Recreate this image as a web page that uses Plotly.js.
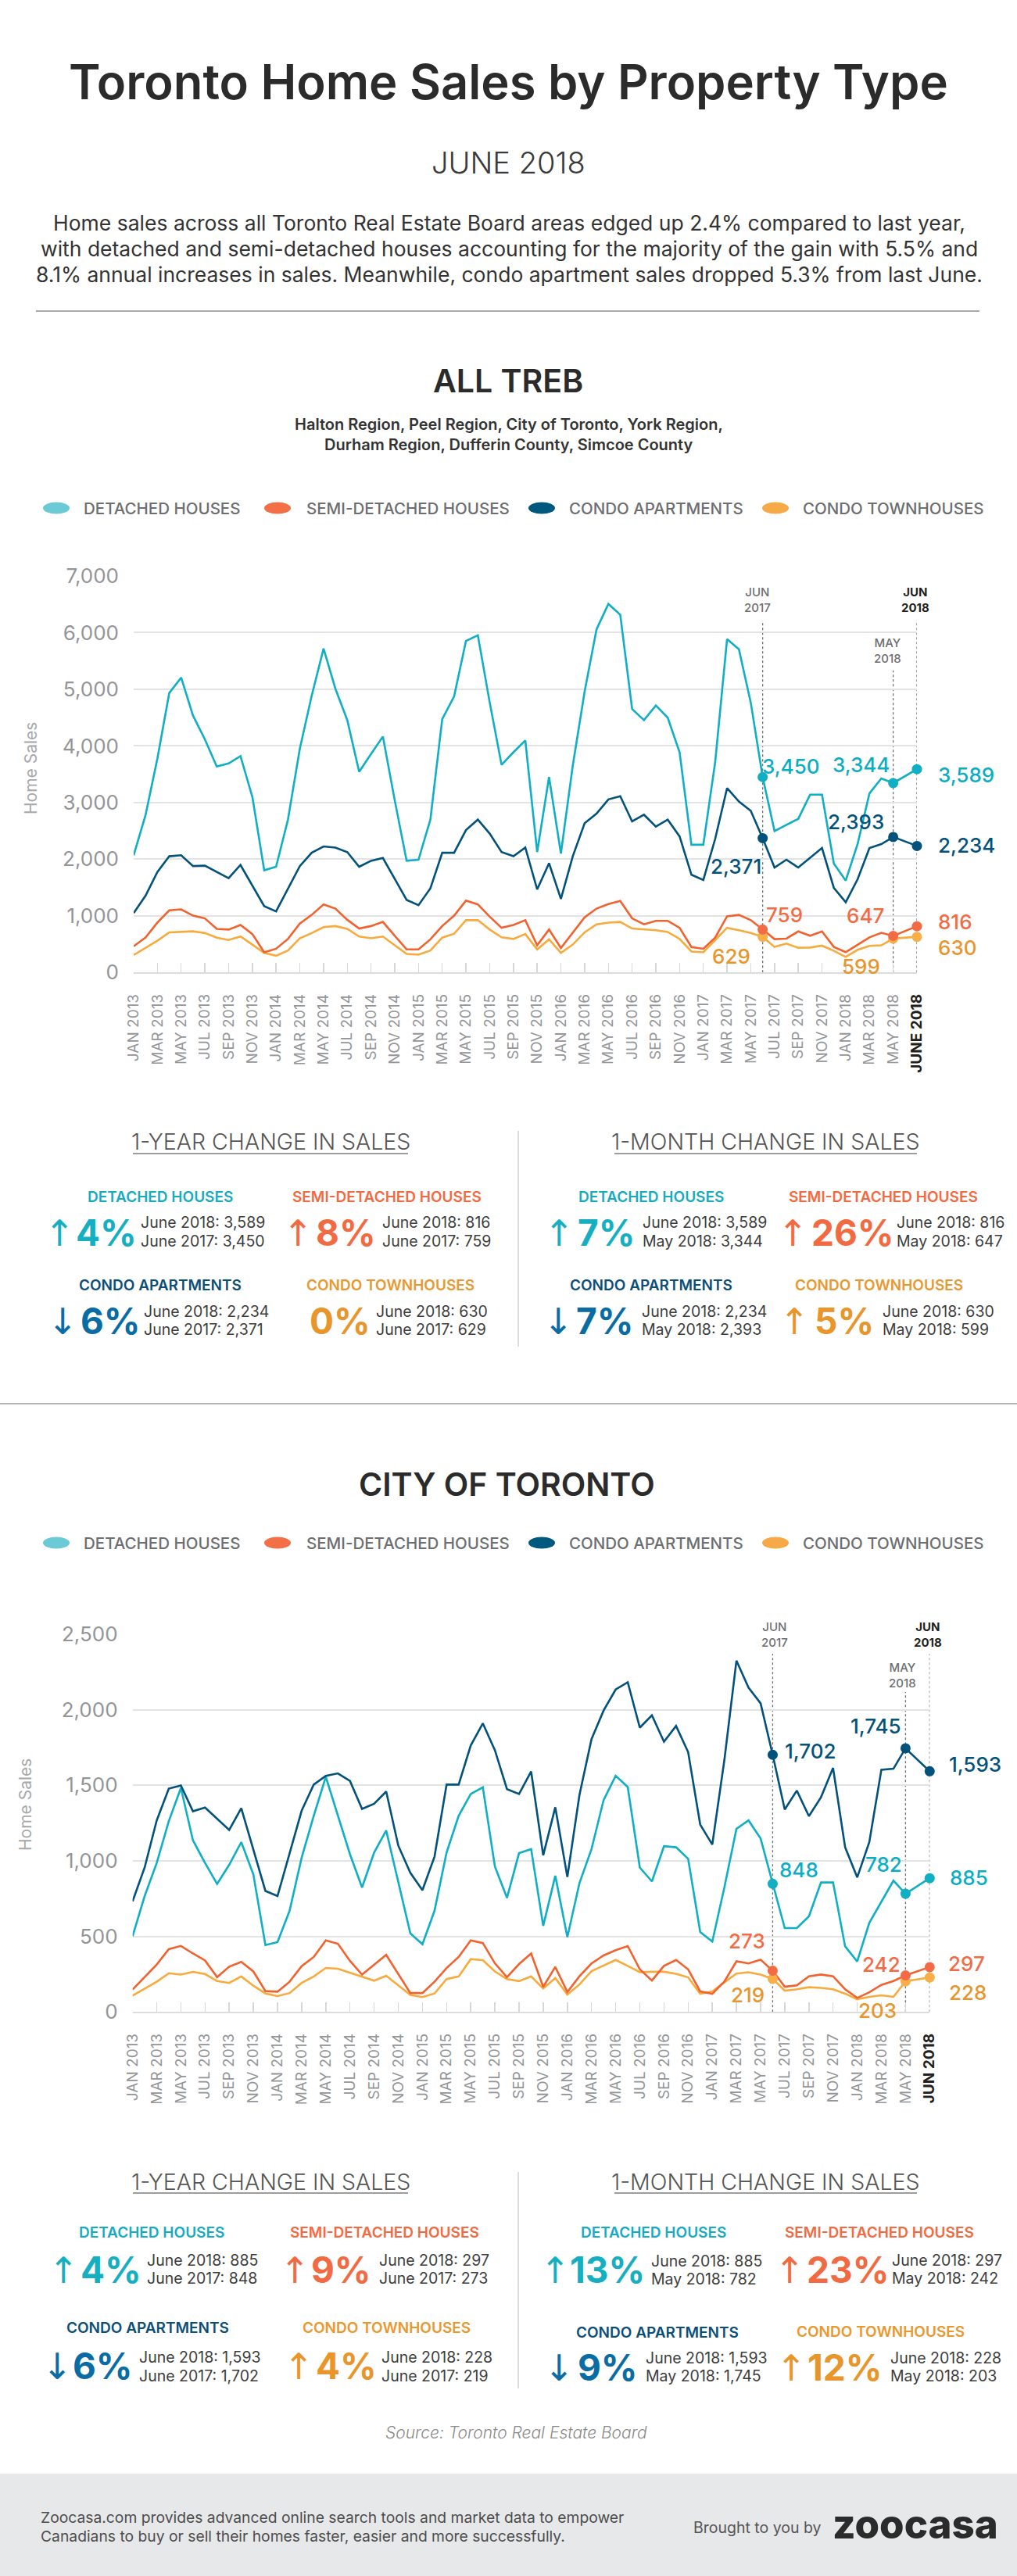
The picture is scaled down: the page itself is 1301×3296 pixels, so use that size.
<!DOCTYPE html>
<html>
<head>
<meta charset="utf-8">
<script src="https://cdn.plot.ly/plotly-3.0.1.min.js"></script>
<style>
html,body{margin:0;padding:0;background:#fff;}
#chart{width:1301px;height:3296px;}
</style>
</head>
<body>
<div id="chart"></div>
<script>
// ---------------- DATA ----------------
const monthNames = ['JAN','FEB','MAR','APR','MAY','JUN','JUL','AUG','SEP','OCT','NOV','DEC'];
const months = [];
for (let y = 2013; y <= 2018; y++) {
  for (let m = 0; m < 12; m++) {
    if (y === 2018 && m > 5) break;
    months.push(monthNames[m] + ' ' + y);
  }
}
const seriesNames = ['DETACHED HOUSES', 'SEMI-DETACHED HOUSES', 'CONDO APARTMENTS', 'CONDO TOWNHOUSES'];

// ALL TREB (monthly sales, Jan 2013 - Jun 2018)
const trebDetached = [2070,2779,3777,4936,5207,4535,4116,3636,3691,3820,3100,1805,
  1867,2699,3950,4886,5718,5010,4455,3543,3857,4166,3038,1972,
  1990,2699,4474,4874,5854,5953,4770,3666,3888,4098,2126,3451,
  2101,3654,4960,6057,6507,6316,4652,4455,4714,4498,3888,2255,
  2255,3716,5885,5706,4763,3450,2497,2602,2713,3140,3140,1922,
  1623,2267,3163,3426,3344,3589];
const trebSemi = [462,616,881,1097,1115,1004,955,770,758,838,678,357,
  419,592,863,1017,1202,1128,930,776,820,893,647,407,
  407,585,820,1004,1269,1202,986,789,838,924,481,758,
  431,696,974,1128,1208,1263,955,850,912,912,789,450,
  419,616,992,1017,924,759,589,598,726,648,726,451,
  359,490,621,700,647,816];
const trebCondo = [1048,1356,1775,2052,2070,1879,1886,1775,1664,1898,1528,1171,
  1078,1479,1879,2114,2225,2206,2126,1867,1972,2021,1651,1282,
  1189,1485,2114,2114,2514,2699,2452,2126,2052,2206,1467,1929,
  1300,2052,2637,2804,3056,3112,2668,2785,2576,2699,2403,1725,
  1633,2360,3254,3019,2853,2371,1853,1991,1853,2025,2198,1494,
  1241,1646,2198,2267,2393,2234];
const trebTown = [308,431,561,709,721,727,696,616,573,635,493,345,
  296,388,604,696,801,820,770,635,604,635,481,327,
  314,388,616,684,924,924,758,622,592,678,407,585,
  345,493,709,850,881,893,776,758,746,715,592,370,
  357,573,789,746,696,629,451,510,437,441,474,382,
  276,400,470,480,599,630];

// CITY OF TORONTO
const cityDetached = [501,767,986,1263,1482,1136,986,847,974,1124,910,443,
  462,670,1021,1298,1556,1298,1044,824,1055,1201,859,520,
  448,670,1055,1298,1443,1487,963,755,1051,1078,570,901,
  496,852,1078,1402,1563,1489,956,864,1097,1090,1014,529,
  466,824,1212,1268,1148,848,555,555,633,857,857,434,
  334,590,731,869,782,885];
const citySemi = [148,230,314,416,437,387,341,230,300,331,268,138,
  134,200,303,364,474,451,338,247,312,378,251,125,
  125,200,291,364,474,456,322,230,317,387,166,298,
  132,236,321,374,409,436,282,208,305,344,282,136,
  120,201,335,321,346,273,167,176,236,248,236,150,
  93,130,179,205,242,297];
const cityCondo = [732,956,1268,1478,1499,1328,1353,1279,1205,1348,1078,801,
  767,1044,1332,1505,1563,1579,1529,1344,1378,1459,1101,921,
  806,1028,1505,1505,1764,1910,1732,1475,1443,1591,1037,1355,
  894,1436,1806,1995,2134,2182,1882,1963,1789,1893,1720,1240,
  1108,1667,2325,2147,2043,1702,1340,1465,1296,1421,1615,1090,
  891,1124,1603,1610,1745,1593];
const cityTown = [108,155,200,256,247,265,251,204,192,235,174,122,
  105,125,192,235,291,286,261,235,207,239,178,113,
  99,122,218,235,350,343,268,218,204,235,155,224,
  115,182,270,309,344,305,263,266,266,252,229,120,
  136,196,254,263,247,219,141,150,164,159,150,121,
  84,100,110,100,203,228];

const trebYTicks = [0,1000,2000,3000,4000,5000,6000,7000];
const cityYTicks = [0,500,1000,1500,2000,2500];
const introLines = [
  'Home sales across all Toronto Real Estate Board areas edged up 2.4% compared to last year,',
  'with detached and semi-detached houses accounting for the majority of the gain with 5.5% and',
  '8.1% annual increases in sales. Meanwhile, condo apartment sales dropped 5.3% from last June.'
];
const trebRegions = ['Halton Region, Peel Region, City of Toronto, York Region,',
                     'Durham Region, Dufferin County, Simcoe County'];

// ---------------- HELPERS ----------------
const W = 1301, H = 3296;
const X = v => v / W;
const Y = v => 1 - v / H;
const FONT = 'Inter, "Open Sans", sans-serif';
const fmt = v => v.toLocaleString('en-US');

const iJun17 = months.indexOf('JUN 2017');
const iMay18 = months.indexOf('MAY 2018');
const iJun18 = months.indexOf('JUN 2018');
// the latest month sits one label-slot to the right (as in the original design)
const slots = months.map((m, i) => (i === iJun18 ? i + 1 : i));
const xMax = slots[slots.length - 1];

const lineCol   = ['#10afc3', '#f2622e', '#03527b', '#f8aa3c'];
const markCol   = ['#10afc3', '#f26b45', '#03527b', '#f9ae47'];
const labelCol  = ['#0aaec3', '#f26b45', '#03527b', '#e8952c'];
const legendCol = ['#6ccad6', '#f36f45', '#00587f', '#f7a947'];
const catCol    = ['#17abc0', '#f26a41', '#0b4f78', '#e9982f'];
const pctCol    = ['#16afc2', '#f26a41', '#0a6ca4', '#e8952c'];

const traces = [];
const annotations = [];
const shapes = [];

function ann(text, x, y, size, color, o = {}) {
  annotations.push({
    text, xref: 'paper', yref: 'paper', x: X(x), y: Y(y), showarrow: false,
    xanchor: o.xanchor || 'center', yanchor: o.yanchor || 'middle',
    textangle: o.angle || 0,
    font: {family: o.family || FONT, size, color, weight: o.weight || 400, style: o.style || 'normal'}
  });
}
function hline(x0, x1, y, color, width) {
  shapes.push({type: 'line', xref: 'paper', yref: 'paper', x0: X(x0), x1: X(x1), y0: Y(y), y1: Y(y),
    line: {color, width}});
}
function vline(x, y0, y1, color, width) {
  shapes.push({type: 'line', xref: 'paper', yref: 'paper', x0: X(x), x1: X(x), y0: Y(y0), y1: Y(y1),
    line: {color, width}});
}

function buildChart(series, xa, ya) {
  const order = [3, 1, 0, 2];
  order.forEach(k => {
    traces.push({type: 'scatter', mode: 'lines', x: slots, y: series[k], xaxis: xa, yaxis: ya,
      line: {color: lineCol[k], width: 2.6}, hoverinfo: 'skip', cliponaxis: false});
  });
  order.forEach(k => {
    const idx = [iJun17, iMay18, iJun18];
    traces.push({type: 'scatter', mode: 'markers', x: idx.map(i => slots[i]), y: idx.map(i => series[k][i]),
      xaxis: xa, yaxis: ya, marker: {color: markCol[k], size: 13}, hoverinfo: 'skip', cliponaxis: false});
  });
}

function tickArrays(lastLabel) {
  const tv = [], tt = [];
  months.forEach((m, i) => {
    if (i === iJun18) { tv.push(slots[i]); tt.push('<span style="color:#231f20"><b>' + lastLabel + '</b></span>'); }
    else if (i % 2 === 0) { tv.push(slots[i]); tt.push(m); }
  });
  return {tv, tt};
}

// ---------------- HEADER ----------------
ann('Toronto Home Sales by Property Type', 650, 105, 61.5, '#2b2b2b', {weight: 600});
ann('JUNE 2018', 650, 208, 38, '#3a3a3a', {weight: 300});
[285, 318, 351].forEach((y, i) => ann(introLines[i], 651, y, 26.5, '#333333', {weight: 400}));
hline(46, 1253, 398, '#8c8c8c', 1.5);

// ---------------- ALL TREB ----------------
ann('ALL TREB', 650, 487, 41, '#2b2b2b', {weight: 600});
ann(trebRegions[0], 651, 543, 20, '#333333', {weight: 600});
ann(trebRegions[1], 651, 569, 20, '#333333', {weight: 600});

function legend(y) {
  const cx = [72, 355, 693, 992], tx = [105, 390, 726, 1025];
  seriesNames.forEach((n, k) => {
    shapes.push({type: 'circle', xref: 'paper', yref: 'paper', x0: X(cx[k] - 17), x1: X(cx[k] + 17),
      y0: Y(y + 7.5), y1: Y(y - 7.5), fillcolor: legendCol[k], line: {width: 0}});
    ann(n, tx[k], y, 20.5, '#6d6e71', {xanchor: 'left', weight: 500});
  });
}
legend(650);

const trebSeries = [trebDetached, trebSemi, trebCondo, trebTown];
buildChart(trebSeries, 'x', 'y');
const t1 = tickArrays('JUNE 2018');

ann('Home Sales', 39, 983, 21, '#a7a9ac', {angle: -90});

// reference month markers (dotted lines)
function refLines(xa, y0, topJun, topMay) {
  [[iJun17, topJun], [iMay18, topMay], [iJun18, topJun]].forEach(([i, top]) => {
    shapes.push({type: 'line', xref: xa, yref: 'paper', x0: slots[i], x1: slots[i], y0: Y(y0), y1: Y(top),
      line: {color: '#6d6e71', width: 1.3, dash: 'dot'}, layer: 'between'});
  });
}
refLines('x', 1244.3, 794, 858);
ann('JUN<br>2017', 969, 767, 15, '#6d6e71', {weight: 500});
ann('<b>JUN<br>2018</b>', 1171, 767, 15, '#231f20', {weight: 700});
ann('MAY<br>2018', 1135, 832, 15, '#6d6e71', {weight: 500});

// value labels
function valLabels(series, pos, size) {
  series.forEach((s, k) => {
    [iJun17, iMay18, iJun18].forEach((i, j) => {
      const p = pos[k][j];
      ann(fmt(s[i]), p[0], p[1], size, labelCol[k], {weight: 500});
    });
  });
}
valLabels(trebSeries, [
  [[1011.7, 980], [1101, 979], [1236, 991]],
  [[1003.5, 1170], [1107, 1171.7], [1222, 1179]],
  [[941.5, 1108.6], [1095, 1051.7], [1236, 1081.8]],
  [[935.5, 1223.8], [1101.5, 1236.7], [1224.5, 1212]]
], 26);

// ---------------- CHANGE SECTIONS ----------------
function changeBlock(series, k, prevIdx, prevName, L) {
  const cur = series[k][iJun18], prev = series[k][prevIdx];
  const pct = Math.round((cur - prev) / prev * 100);
  ann(seriesNames[k], L.lx, L.ly, 19, catCol[k], {weight: 600});
  if (pct !== 0) ann(pct > 0 ? '↑' : '↓', L.ax, L.py + 1, 46, pctCol[k], {family: '"DejaVu Sans", sans-serif', weight: 400});
  ann(Math.abs(pct) + '%', L.px, L.py, 46, pctCol[k], {xanchor: 'left', weight: 700});
  ann('June 2018: ' + fmt(cur), L.tx, L.t1, 19.5, '#3d3d3d', {xanchor: 'left'});
  ann(prevName + ': ' + fmt(prev), L.tx, L.t2, 19.5, '#3d3d3d', {xanchor: 'left'});
}
function changeHeadings(y, uy, divTop, divBot) {
  ann('1-YEAR CHANGE IN SALES', 346, y, 28.5, '#555555', {weight: 300});
  ann('1-MONTH CHANGE IN SALES', 979, y, 28.5, '#555555', {weight: 300});
  hline(170, 522, uy, '#9d9d9d', 2);
  hline(786, 1173, uy, '#9d9d9d', 2);
  vline(663, divTop, divBot, '#d0d0d0', 1.5);
}

changeHeadings(1460, 1476, 1447, 1723);
const trebY = [
  {lx: 205, ly: 1531, ax: 76, px: 95, py: 1577, tx: 178, t1: 1564, t2: 1588},
  {lx: 495, ly: 1531, ax: 381, px: 402, py: 1577, tx: 487, t1: 1564, t2: 1588},
  {lx: 205, ly: 1645, ax: 80, px: 101, py: 1690, tx: 182, t1: 1678, t2: 1701},
  {lx: 499, ly: 1645, ax: 382, px: 394, py: 1690, tx: 479, t1: 1678, t2: 1701}
];
const trebM = [
  {lx: 833, ly: 1531, ax: 715, px: 737, py: 1577, tx: 820, t1: 1564, t2: 1588},
  {lx: 1130, ly: 1531, ax: 1014, px: 1036, py: 1577, tx: 1145, t1: 1564, t2: 1588},
  {lx: 833, ly: 1645, ax: 714, px: 735, py: 1690, tx: 819, t1: 1678, t2: 1701},
  {lx: 1124, ly: 1645, ax: 1016, px: 1040, py: 1690, tx: 1127, t1: 1678, t2: 1701}
];
[0, 1, 2, 3].forEach(k => {
  changeBlock(trebSeries, k, iJun17, 'June 2017', trebY[k]);
  changeBlock(trebSeries, k, iMay18, 'May 2018', trebM[k]);
});

hline(0, 1301, 1796, '#9b9b9b', 1.5);

// ---------------- CITY OF TORONTO ----------------
ann('CITY OF TORONTO', 648, 1899, 41, '#2b2b2b', {weight: 600});
legend(1974);
const citySeries = [cityDetached, citySemi, cityCondo, cityTown];
buildChart(citySeries, 'x2', 'y2');
const t2 = tickArrays('JUN 2018');
ann('Home Sales', 32, 2309, 21, '#a7a9ac', {angle: -90});
refLines('x2', 2574.3, 2116, 2165);
ann('JUN<br>2017', 990.6, 2091, 15, '#6d6e71', {weight: 500});
ann('<b>JUN<br>2018</b>', 1187, 2091, 15, '#231f20', {weight: 700});
ann('MAY<br>2018', 1154, 2143, 15, '#6d6e71', {weight: 500});

valLabels(citySeries, [
  [[1022.5, 2392], [1130, 2385], [1239, 2402.6]],
  [[955.5, 2483], [1127, 2513], [1236.5, 2512]],
  [[1036.5, 2240], [1120.5, 2208], [1247.5, 2257]],
  [[956.5, 2552], [1122, 2572], [1237.5, 2549]]
], 26);

changeHeadings(2791, 2806, 2779, 3056);
const cityYr = [
  {lx: 194, ly: 2856, ax: 81, px: 101, py: 2904, tx: 186, t1: 2892, t2: 2915},
  {lx: 492, ly: 2856, ax: 377, px: 396, py: 2904, tx: 483, t1: 2892, t2: 2915},
  {lx: 189, ly: 2978, ax: 73, px: 91, py: 3027, tx: 176, t1: 3016, t2: 3040},
  {lx: 494, ly: 2978, ax: 382, px: 402, py: 3027, tx: 486, t1: 3016, t2: 3040}
];
const cityMo = [
  {lx: 836, ly: 2856, ax: 710, px: 727, py: 2904, tx: 831, t1: 2893, t2: 2916},
  {lx: 1125, ly: 2856, ax: 1010, px: 1030, py: 2904, tx: 1139, t1: 2892, t2: 2915},
  {lx: 841, ly: 2984, ax: 715, px: 737, py: 3029, tx: 824, t1: 3017, t2: 3040},
  {lx: 1126, ly: 2983, ax: 1012, px: 1031, py: 3029, tx: 1137, t1: 3017, t2: 3040}
];
[0, 1, 2, 3].forEach(k => {
  changeBlock(citySeries, k, iJun17, 'June 2017', cityYr[k]);
  changeBlock(citySeries, k, iMay18, 'May 2018', cityMo[k]);
});

// ---------------- FOOTER ----------------
ann('Source: Toronto Real Estate Board', 660, 3112, 21, '#8a8a8a', {style: 'italic', weight: 300});
shapes.push({type: 'rect', xref: 'paper', yref: 'paper', x0: 0, x1: 1, y0: 0, y1: Y(3165),
  fillcolor: '#e7e8e9', line: {width: 0}, layer: 'below'});
ann('Zoocasa.com provides advanced online search tools and market data to empower', 50, 3221, 19.3, '#4d4d4d', {xanchor: 'left'});
ann('Canadians to buy or sell their homes faster, easier and more successfully.', 50, 3245, 19.3, '#4d4d4d', {xanchor: 'left'});
ann('Brought to you by', 1053, 3234, 19.5, '#555555', {xanchor: 'right'});
ann('zoocasa', 1063, 3229, 51, '#2b2b2b', {weight: 800, xanchor: 'left'});

// ---------------- AXES ----------------
function xAxis(dom, ticks, anchor) {
  return {domain: dom, range: [0, xMax], anchor, tickmode: 'array', tickvals: ticks.tv, ticktext: ticks.tt,
    tickangle: -90, ticks: 'inside', ticklen: 12, tickwidth: 1.5, tickcolor: '#d7d7d7',
    showline: true, linecolor: '#dcdcdc', linewidth: 2, showgrid: false, zeroline: false,
    tickfont: {family: FONT, size: 19, color: '#939598'}, ticklabelstandoff: 18,
    automargin: false, fixedrange: true};
}
function yAxis(dom, range, tv, anchor) {
  return {domain: dom, range, anchor, tickmode: 'array', tickvals: tv, ticktext: tv.map(fmt),
    showgrid: true, gridcolor: '#e3e3e3', gridwidth: 2, zeroline: false, showline: false, ticks: '',
    tickfont: {family: FONT, size: 26, color: '#939598'}, ticklabelstandoff: 18,
    automargin: false, fixedrange: true};
}

const layout = {
  width: W, height: H, margin: {l: 0, r: 0, t: 0, b: 0},
  paper_bgcolor: '#ffffff', plot_bgcolor: '#ffffff', showlegend: false,
  xaxis: xAxis([X(171), X(1173)], t1, 'y'),
  yaxis: yAxis([Y(1244.3), Y(737)], [0, 7000], trebYTicks, 'x'),
  xaxis2: xAxis([X(169.6), X(1189.3)], t2, 'y2'),
  yaxis2: yAxis([Y(2574.3), Y(2091)], [0, 2500], cityYTicks, 'x2'),
  annotations, shapes
};

Plotly.newPlot('chart', traces, layout, {staticPlot: true, displayModeBar: false});
</script>
</body>
</html>
